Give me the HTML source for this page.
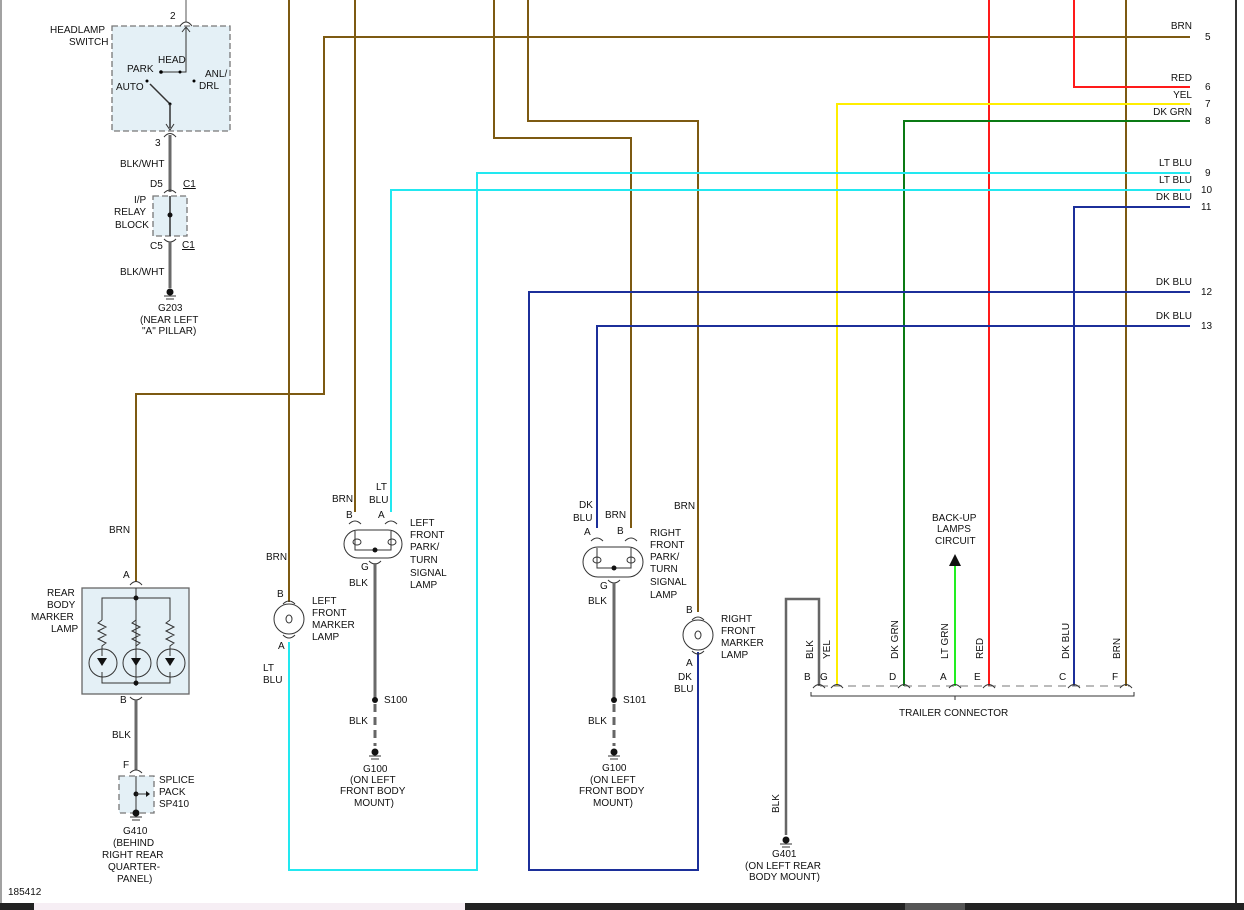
<!DOCTYPE html>
<html><head><meta charset="utf-8"><style>
html,body{margin:0;padding:0;background:#fff}
svg{display:block}
text{font-family:"Liberation Sans",Arial,sans-serif;font-size:10px;fill:#111}
.w{fill:none;stroke-linejoin:miter}
.brn{stroke:#7d5a12;stroke-width:2}
.gry{stroke:#6a6a6a;stroke-width:3}
.lbl{stroke:#22e8f0;stroke-width:2}
.dbl{stroke:#1c2f9a;stroke-width:2}
.c{fill:none;stroke:#333;stroke-width:1}
</style></head><body>
<svg width="1244" height="910" viewBox="0 0 1244 910" xmlns="http://www.w3.org/2000/svg">
<rect width="1244" height="910" fill="#fff"/>
<line x1="1" y1="0" x2="1" y2="903" stroke="#444" stroke-width="1"/>
<line x1="1236" y1="0" x2="1236" y2="903" stroke="#333" stroke-width="2"/>
<rect x="0" y="903" width="1244" height="7" fill="#222"/>
<rect x="34" y="903" width="431" height="7" fill="#f6eef4"/>
<rect x="905" y="903" width="60" height="7" fill="#555"/>

<!-- boxes -->
<rect x="112" y="26" width="118" height="105" fill="#e4f0f6" stroke="#777" stroke-dasharray="6,3" stroke-width="1.3"/>
<rect x="153" y="196" width="34" height="40" fill="#e4f0f6" stroke="#777" stroke-dasharray="6,3" stroke-width="1.3"/>
<rect x="82" y="588" width="107" height="106" fill="#e4f0f6" stroke="#666" stroke-width="1.3"/>
<rect x="119" y="776" width="35" height="37" fill="#e4f0f6" stroke="#777" stroke-dasharray="6,4" stroke-width="1.3"/>

<!-- headlamp switch internals -->
<line x1="186" y1="0" x2="186" y2="22" stroke="#aaa" stroke-width="2"/>
<path class="c" d="M180 26 Q186 18 192 26"/>
<polyline class="c" points="186,28 186,72 161,72" stroke-width="1.5"/>
<circle cx="161" cy="72" r="1.8"/><circle cx="180" cy="72" r="1.5"/>
<circle cx="147" cy="81" r="1.5"/><circle cx="194" cy="81" r="1.5"/>
<line x1="150" y1="84" x2="170" y2="104" stroke="#333" stroke-width="1.5"/>
<circle cx="170" cy="104" r="1.5"/>
<line x1="170" y1="104" x2="170" y2="128" stroke="#333" stroke-width="1.5"/>
<path class="c" d="M166 124 L170 130 L174 124"/>
<path class="c" d="M182 32 L186 27 L190 32"/>
<path class="c" d="M164 137 Q170 130 176 137"/>
<text x="170" y="19">2</text>
<text x="50" y="33">HEADLAMP</text><text x="69" y="45">SWITCH</text>
<text x="158" y="63">HEAD</text><text x="127" y="72">PARK</text>
<text x="205" y="77">ANL/</text><text x="199" y="89">DRL</text>
<text x="116" y="90">AUTO</text>
<text x="155" y="146">3</text>
<line class="gry w" x1="170" y1="135" x2="170" y2="192"/>
<text x="120" y="167">BLK/WHT</text>
<text x="150" y="187">D5</text><text x="183" y="187" text-decoration="underline">C1</text>
<path class="c" d="M164 193 Q170 187 176 193"/>
<line x1="170" y1="196" x2="170" y2="236" stroke="#333" stroke-width="1.5"/>
<circle cx="170" cy="215" r="2.5" fill="#111"/>
<text x="134" y="203">I/P</text><text x="114" y="215">RELAY</text><text x="115" y="228">BLOCK</text>
<path class="c" d="M164 239 Q170 245 176 239"/>
<text x="150" y="249">C5</text><text x="182" y="248" text-decoration="underline">C1</text>
<line class="gry w" x1="170" y1="242" x2="170" y2="288"/>
<text x="120" y="275">BLK/WHT</text>
<circle cx="170" cy="292" r="3.5" fill="#111"/>
<line x1="164" y1="296" x2="176" y2="296" stroke="#333"/><line x1="166" y1="299" x2="174" y2="299" stroke="#333"/>
<text x="158" y="311">G203</text><text x="140" y="323">(NEAR LEFT</text><text x="142" y="334">"A" PILLAR)</text>

<!-- brown wires -->
<polyline class="w brn" points="1190,37 324,37 324,394 136,394 136,582"/>
<line class="w brn" x1="289" y1="0" x2="289" y2="602"/>
<line class="w brn" x1="355" y1="0" x2="355" y2="512"/>
<polyline class="w brn" points="494,0 494,138 631,138 631,528"/>
<polyline class="w brn" points="528,0 528,121 698,121 698,612"/>
<line class="w brn" x1="1126" y1="0" x2="1126" y2="686"/>
<!-- other colored -->
<polyline class="w" stroke="#ff1a1a" stroke-width="2" points="1074,0 1074,87 1190,87"/>
<line x1="989" y1="0" x2="989" y2="686" stroke="#ff1a1a" stroke-width="2"/>
<polyline class="w" stroke="#ffee00" stroke-width="2" points="1190,104 837,104 837,686"/>
<polyline class="w" stroke="#0a7a14" stroke-width="2" points="1190,121 904,121 904,686"/>
<polyline class="w lbl" points="1190,173 477,173 477,870 289,870 289,642"/>
<polyline class="w lbl" points="1190,190 391,190 391,512"/>
<polyline class="w dbl" points="1190,207 1074,207 1074,686"/>
<polyline class="w dbl" points="1190,292 529,292 529,870 698,870 698,652"/>
<polyline class="w dbl" points="1190,326 597,326 597,528"/>
<line x1="955" y1="565" x2="955" y2="686" stroke="#22ee22" stroke-width="2"/>
<polygon points="949,566 961,566 955,554" fill="#111"/>

<!-- right labels -->
<g text-anchor="end">
<text x="1192" y="29">BRN</text><text x="1192" y="81">RED</text><text x="1192" y="98">YEL</text>
<text x="1192" y="115">DK GRN</text><text x="1192" y="166">LT BLU</text><text x="1192" y="183">LT BLU</text>
<text x="1192" y="200">DK BLU</text><text x="1192" y="285">DK BLU</text><text x="1192" y="319">DK BLU</text>
</g>
<text x="1205" y="40">5</text><text x="1205" y="90">6</text><text x="1205" y="107">7</text><text x="1205" y="124">8</text>
<text x="1205" y="176">9</text><text x="1201" y="193">10</text><text x="1201" y="210">11</text>
<text x="1201" y="295">12</text><text x="1201" y="329">13</text>

<!-- rear body marker -->
<text x="109" y="533">BRN</text><text x="123" y="578">A</text>
<path class="c" d="M130 585 Q136 578 142 585"/>
<text x="47" y="596">REAR</text><text x="47" y="608">BODY</text><text x="31" y="620">MARKER</text><text x="51" y="632">LAMP</text>
<g stroke="#333" fill="none" stroke-width="1">
<line x1="136" y1="588" x2="136" y2="686"/>
<polyline points="102,620 102,598 170,598 170,620"/>
<polyline points="102,672 102,683 170,683 170,672"/>
<path d="M102 620 l-4 3 8 4 -8 4 8 4 -8 4 8 4 -4 3 v10 M136 620 l-4 3 8 4 -8 4 8 4 -8 4 8 4 -4 3 v10 M170 620 l-4 3 8 4 -8 4 8 4 -8 4 8 4 -4 3 v10"/>
<circle cx="103" cy="663" r="14"/><circle cx="137" cy="663" r="14"/><circle cx="171" cy="663" r="14"/>
</g>
<g fill="#111"><polygon points="97,658 107,658 102,666"/><polygon points="131,658 141,658 136,666"/><polygon points="165,658 175,658 170,666"/>
<circle cx="136" cy="598" r="2.5"/><circle cx="136" cy="683" r="2.5"/></g>
<path class="c" d="M130 697 Q136 703 142 697"/>
<text x="120" y="703">B</text>
<line class="gry w" x1="136" y1="700" x2="136" y2="770"/>
<text x="112" y="738">BLK</text><text x="123" y="768">F</text>
<path class="c" d="M130 773 Q136 767 142 773"/>
<line x1="136" y1="776" x2="136" y2="813" stroke="#333"/>
<circle cx="136" cy="794" r="2.5" fill="#111"/><line x1="136" y1="794" x2="147" y2="794" stroke="#333"/><polygon points="146,791 150,794 146,797" fill="#111"/>
<circle cx="136" cy="813" r="3.5" fill="#111"/>
<line x1="130" y1="817" x2="142" y2="817" stroke="#333"/><line x1="132" y1="820" x2="140" y2="820" stroke="#333"/>
<text x="159" y="783">SPLICE</text><text x="159" y="795">PACK</text><text x="159" y="807">SP410</text>
<text x="123" y="834">G410</text><text x="113" y="846">(BEHIND</text><text x="102" y="858">RIGHT REAR</text><text x="108" y="870">QUARTER-</text><text x="117" y="882">PANEL)</text>
<text x="8" y="895">185412</text>

<!-- left front marker -->
<text x="266" y="560">BRN</text><text x="277" y="597">B</text><text x="278" y="649">A</text>
<circle cx="289" cy="619" r="15" class="c"/>
<path class="c" d="M283 604 Q289 598 295 604 M283 635 Q289 641 295 635"/>
<ellipse cx="289" cy="619" rx="3" ry="4" class="c"/>
<text x="312" y="604">LEFT</text><text x="312" y="616">FRONT</text><text x="312" y="628">MARKER</text><text x="312" y="640">LAMP</text>
<text x="263" y="671">LT</text><text x="263" y="683">BLU</text>

<!-- left front park -->
<text x="332" y="502">BRN</text><text x="346" y="518">B</text>
<text x="376" y="490">LT</text><text x="369" y="503">BLU</text><text x="378" y="518">A</text>
<path class="c" d="M349 524 Q355 518 361 524 M385 524 Q391 518 397 524"/>
<rect x="344" y="530" width="58" height="28" rx="14" class="c"/>
<ellipse cx="357" cy="542" rx="4" ry="3" class="c"/><ellipse cx="392" cy="542" rx="4" ry="3" class="c"/>
<polyline class="c" points="355,531 355,550 375,550 391,550 391,531"/>
<circle cx="375" cy="550" r="2.5" fill="#111"/>
<path class="c" d="M369 561 Q375 567 381 561"/>
<text x="361" y="570">G</text><text x="349" y="586">BLK</text>
<text x="410" y="526">LEFT</text><text x="410" y="538">FRONT</text><text x="410" y="550">PARK/</text><text x="410" y="563">TURN</text><text x="410" y="576">SIGNAL</text><text x="410" y="588">LAMP</text>
<line class="gry w" x1="375" y1="563" x2="375" y2="700"/>
<circle cx="375" cy="700" r="3" fill="#111"/>
<line x1="375" y1="704" x2="375" y2="746" stroke="#666" stroke-width="3" stroke-dasharray="8,5"/>
<text x="384" y="703">S100</text><text x="349" y="724">BLK</text>
<circle cx="375" cy="752" r="3.5" fill="#111"/>
<line x1="369" y1="756" x2="381" y2="756" stroke="#333"/><line x1="371" y1="759" x2="379" y2="759" stroke="#333"/>
<text x="363" y="772">G100</text><text x="350" y="783">(ON LEFT</text><text x="340" y="794">FRONT BODY</text><text x="354" y="806">MOUNT)</text>

<!-- right front park -->
<text x="579" y="508">DK</text><text x="573" y="521">BLU</text><text x="584" y="535">A</text>
<text x="605" y="518">BRN</text><text x="617" y="534">B</text>
<path class="c" d="M591 541 Q597 535 603 541 M625 541 Q631 535 637 541"/>
<rect x="583" y="547" width="60" height="30" rx="15" class="c"/>
<ellipse cx="597" cy="560" rx="4" ry="3" class="c"/><ellipse cx="631" cy="560" rx="4" ry="3" class="c"/>
<polyline class="c" points="597,548 597,568 631,568 631,548"/>
<circle cx="614" cy="568" r="2.5" fill="#111"/>
<path class="c" d="M608 580 Q614 586 620 580"/>
<text x="600" y="589">G</text><text x="588" y="604">BLK</text>
<text x="650" y="536">RIGHT</text><text x="650" y="548">FRONT</text><text x="650" y="560">PARK/</text><text x="650" y="572">TURN</text><text x="650" y="585">SIGNAL</text><text x="650" y="598">LAMP</text>
<line class="gry w" x1="614" y1="583" x2="614" y2="700"/>
<circle cx="614" cy="700" r="3" fill="#111"/>
<line x1="614" y1="704" x2="614" y2="746" stroke="#666" stroke-width="3" stroke-dasharray="8,5"/>
<text x="623" y="703">S101</text><text x="588" y="724">BLK</text>
<circle cx="614" cy="752" r="3.5" fill="#111"/>
<line x1="608" y1="756" x2="620" y2="756" stroke="#333"/><line x1="610" y1="759" x2="618" y2="759" stroke="#333"/>
<text x="602" y="771">G100</text><text x="590" y="783">(ON LEFT</text><text x="579" y="794">FRONT BODY</text><text x="593" y="806">MOUNT)</text>

<!-- right front marker -->
<text x="674" y="509">BRN</text><text x="686" y="613">B</text><text x="686" y="666">A</text>
<circle cx="698" cy="635" r="15" class="c"/>
<path class="c" d="M692 620 Q698 614 704 620 M692 651 Q698 657 704 651"/>
<ellipse cx="698" cy="635" rx="3" ry="4" class="c"/>
<text x="721" y="622">RIGHT</text><text x="721" y="634">FRONT</text><text x="721" y="646">MARKER</text><text x="721" y="658">LAMP</text>
<text x="678" y="680">DK</text><text x="674" y="692">BLU</text>

<!-- trailer connector -->
<polyline class="w" stroke="#666" stroke-width="2.5" points="786,835 786,599 819,599 819,686"/>
<circle cx="786" cy="840" r="3.5" fill="#111"/>
<line x1="780" y1="844" x2="792" y2="844" stroke="#333"/><line x1="782" y1="847" x2="790" y2="847" stroke="#333"/>
<text x="772" y="857">G401</text><text x="745" y="869">(ON LEFT REAR</text><text x="749" y="880">BODY MOUNT)</text>
<text transform="translate(779,813) rotate(-90)">BLK</text>
<line x1="820" y1="686" x2="1130" y2="686" stroke="#777" stroke-dasharray="8,6"/>
<path class="c" d="M813 688 Q819 681 825 688 M831 688 Q837 681 843 688 M898 688 Q904 681 910 688 M949 688 Q955 681 961 688 M983 688 Q989 681 995 688 M1068 688 Q1074 681 1080 688 M1120 688 Q1126 681 1132 688"/>
<path class="c" d="M811 692 L811 696 L955 696 L955 700 L955 696 L1134 696 L1134 692"/>
<g transform="rotate(-90)">
<text x="-659" y="813">BLK</text><text x="-659" y="830">YEL</text><text x="-659" y="898">DK GRN</text>
<text x="-659" y="948">LT GRN</text><text x="-659" y="983">RED</text><text x="-659" y="1069">DK BLU</text><text x="-659" y="1120">BRN</text>
</g>
<text x="804" y="680">B</text><text x="820" y="680">G</text><text x="889" y="680">D</text><text x="940" y="680">A</text>
<text x="974" y="680">E</text><text x="1059" y="680">C</text><text x="1112" y="680">F</text>
<text x="899" y="716">TRAILER CONNECTOR</text>
<text x="932" y="521">BACK-UP</text><text x="937" y="532">LAMPS</text><text x="935" y="544">CIRCUIT</text>
</svg>
</body></html>
